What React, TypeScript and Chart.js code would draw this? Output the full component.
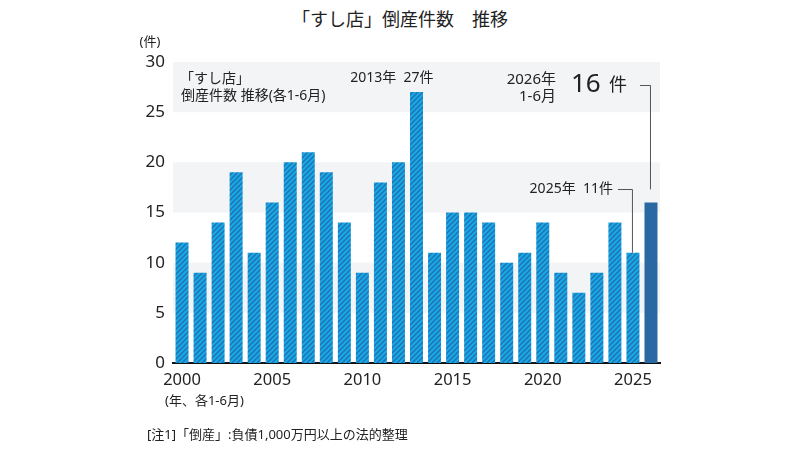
import React, { useEffect, useRef } from "react";
import { Chart, registerables } from "chart.js";

Chart.register(...registerables);

const years: string[] = [
  "2000","2001","2002","2003","2004","2005","2006","2007","2008","2009",
  "2010","2011","2012","2013","2014","2015","2016","2017","2018","2019",
  "2020","2021","2022","2023","2024","2025","2026",
];
const counts: number[] = [
  12, 9, 14, 19, 11, 16, 20, 21, 19, 14,
  9, 18, 20, 27, 11, 15, 15, 14, 10, 11,
  14, 9, 7, 9, 14, 11, 16,
];
const yTicks: number[] = [0, 5, 10, 15, 20, 25, 30];
const bandRanges: [number, number][] = [[25, 30], [15, 20], [5, 10]];

const FONT = '"Noto Sans", "Noto Sans CJK JP", sans-serif';

function makeHatch(): CanvasPattern | string {
  const s = 5;
  const c = document.createElement("canvas");
  c.width = s;
  c.height = s;
  const ctx = c.getContext("2d");
  if (!ctx) return "#29a6de";
  ctx.fillStyle = "#18aae6";
  ctx.fillRect(0, 0, s, s);
  ctx.strokeStyle = "#2072b2";
  ctx.lineWidth = 1.5;
  ctx.beginPath();
  ctx.moveTo(-1, 1); ctx.lineTo(1, -1);
  ctx.moveTo(0, s); ctx.lineTo(s, 0);
  ctx.moveTo(s - 1, s + 1); ctx.lineTo(s + 1, s - 1);
  ctx.stroke();
  const p = ctx.createPattern(c, "repeat");
  return p || "#29a6de";
}

const bandsPlugin = {
  id: "bands",
  beforeDatasetsDraw(chart: any) {
    const { ctx, chartArea, scales } = chart;
    const y = scales.y;
    ctx.save();
    ctx.fillStyle = "#f3f4f6";
    for (const [a, b] of bandRanges) {
      const top = y.getPixelForValue(b);
      const bot = y.getPixelForValue(a);
      ctx.fillRect(chartArea.left, top, chartArea.right - chartArea.left, bot - top);
    }
    ctx.restore();
  },
};

const notesPlugin = {
  id: "notes",
  afterDraw(chart: any) {
    const { ctx, chartArea, scales } = chart;
    const x = scales.x;
    const y = scales.y;
    const n = years.length;
    ctx.save();
    ctx.fillStyle = "#222";
    ctx.textBaseline = "middle";

    // unit label
    ctx.font = `13px ${FONT}`;
    ctx.textAlign = "center";
    ctx.fillText("(件)", chartArea.left - 23, y.getPixelForValue(30) - 20);

    // legend-ish label
    ctx.textAlign = "left";
    ctx.font = `14px ${FONT}`;
    ctx.fillText("「すし店」", chartArea.left + 7, y.getPixelForValue(28.3));
    ctx.fillText("倒産件数 推移(各1-6月)", chartArea.left + 8, y.getPixelForValue(26.6));

    // 2013 peak
    const i13 = years.indexOf("2013");
    ctx.textAlign = "right";
    ctx.fillText("2013年  27件", x.getPixelForValue(i13) + 17, y.getPixelForValue(28.4));

    // 2026
    const i26 = n - 1;
    const x26 = x.getPixelForValue(i26);
    ctx.font = `15px ${FONT}`;
    ctx.textAlign = "right";
    ctx.fillText("2026年", x26 - 95, y.getPixelForValue(28.2));
    ctx.fillText("1-6月", x26 - 95, y.getPixelForValue(26.5));
    ctx.textAlign = "left";
    ctx.font = `26px ${FONT}`;
    ctx.fillText("16", x26 - 80, y.getPixelForValue(27.7));
    ctx.font = `18px ${FONT}`;
    ctx.fillText("件", x26 - 42, y.getPixelForValue(27.6));

    // 2025
    const i25 = n - 2;
    const x25 = x.getPixelForValue(i25);
    ctx.font = `14px ${FONT}`;
    ctx.textAlign = "right";
    ctx.fillText("2025年  11件", x25 - 20, y.getPixelForValue(17.3));

    // connectors
    ctx.strokeStyle = "#555";
    ctx.lineWidth = 1;
    ctx.beginPath();
    const ly25 = Math.round(y.getPixelForValue(17.3)) + 0.5;
    ctx.moveTo(x25 - 15, ly25);
    ctx.lineTo(x25 - 0.5, ly25);
    ctx.lineTo(x25 - 0.5, y.getPixelForValue(counts[i25]));
    const ly26 = Math.round(y.getPixelForValue(27.7)) + 0.5;
    ctx.moveTo(x26 - 11, ly26);
    ctx.lineTo(x26 - 0.5, ly26);
    ctx.lineTo(x26 - 0.5, y.getPixelForValue(17.3));
    ctx.stroke();

    // footnotes
    ctx.fillStyle = "#222";
    ctx.textAlign = "left";
    ctx.font = `13px ${FONT}`;
    ctx.fillText("(年、各1-6月)", chartArea.left - 8, chartArea.bottom + 38);
    ctx.fillText("[注1]「倒産」:負債1,000万円以上の法的整理", chartArea.left - 26, chartArea.bottom + 72);

    ctx.restore();
  },
};

export default function App() {
  const ref = useRef<HTMLCanvasElement>(null);

  useEffect(() => {
    const canvas = ref.current;
    if (!canvas) return;
    const hatch = makeHatch();
    const colors = counts.map((_, i) => (i === counts.length - 1 ? "#2968a2" : hatch));
    const chart = new Chart(canvas, {
      type: "bar",
      data: {
        labels: years,
        datasets: [
          {
            data: counts,
            backgroundColor: colors as any,
            borderWidth: 0,
            barPercentage: 0.72,
            categoryPercentage: 1,
          },
        ],
      },
      options: {
        animation: false,
        responsive: false,
        devicePixelRatio: 1,
        layout: { padding: { left: 0, right: 140, top: 62, bottom: 0 } },
        plugins: {
          legend: { display: false },
          tooltip: { enabled: false },
          title: { display: false },
        },
        scales: {
          x: {
            grid: { display: false, drawTicks: false },
            border: { display: true, color: "#111", width: 2 },
            ticks: {
              autoSkip: false,
              maxRotation: 0,
              padding: 7,
              color: "#222",
              font: { family: FONT, size: 16.5 },
              callback: (_v: any, i: number) => (Number(years[i]) % 5 === 0 ? years[i] : ""),
            },
            afterFit: (s: any) => {
              s.height = 87;
            },
          },
          y: {
            min: 0,
            max: 30,
            afterBuildTicks: (s: any) => {
              s.ticks = yTicks.map((v) => ({ value: v }));
            },
            grid: { display: false, drawTicks: false },
            border: { display: false },
            ticks: {
              padding: 8,
              color: "#222",
              font: { family: FONT, size: 17 },
            },
            afterFit: (s: any) => {
              s.width = 173;
            },
          },
        },
      },
      plugins: [bandsPlugin, notesPlugin],
    });
    return () => chart.destroy();
  }, []);

  return (
    <div style={{ position: "fixed", left: 0, top: 0, width: 800, height: 450, background: "#fff" }}>
      <div
        style={{
          position: "absolute",
          left: 0,
          width: 800,
          top: 5,
          textAlign: "center",
          fontFamily: FONT,
          fontSize: 18,
          color: "#222",
        }}
      >
        「すし店」倒産件数　推移
      </div>
      <canvas ref={ref} width={800} height={450} style={{ position: "absolute", left: 0, top: 0 }} />
    </div>
  );
}
